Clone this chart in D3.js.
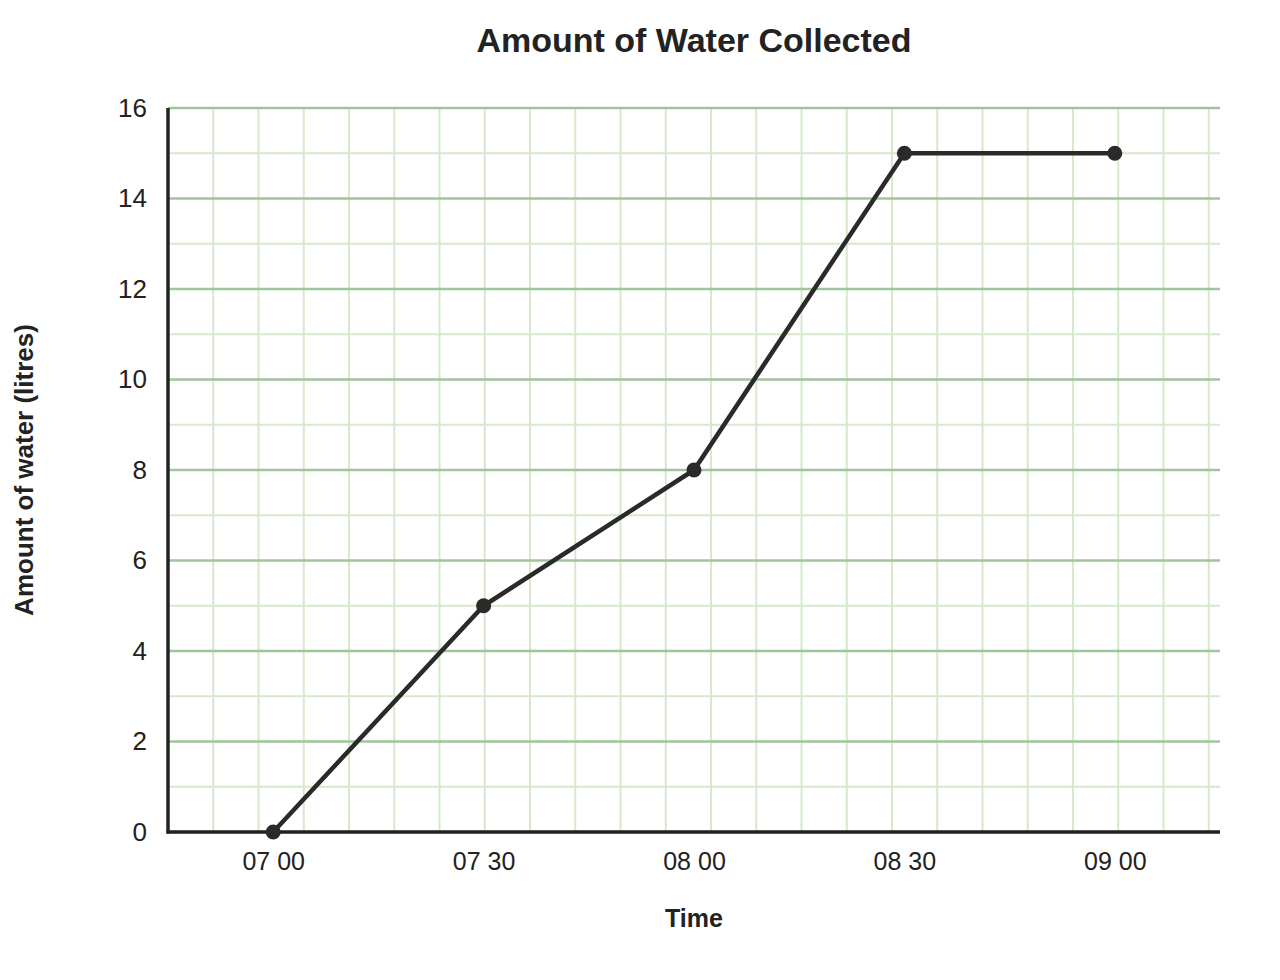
<!DOCTYPE html>
<html>
<head>
<meta charset="utf-8">
<script src="https://cdn.jsdelivr.net/npm/d3@7"></script>
<style>
  body { margin: 0; background: #fff; }
  text { font-family: "Liberation Sans", Arial, sans-serif; fill: #222; }
</style>
</head>
<body>
<svg width="1280" height="980"></svg>
<script>
let times = ['07 00', '07 30', '08 00', '08 30', '09 00'];
let water = [0, 5, 8, 15, 15];
let yTicks = [0, 2, 4, 6, 8, 10, 12, 14, 16];
let minorSteps = d3.range(0, 17, 1);

let svg = d3.select('svg');
let margin = { left: 168, right: 60, top: 108, bottom: 148 };
let width = 1280 - margin.left - margin.right;
let height = 980 - margin.top - margin.bottom;

let x = d3.scalePoint().domain(times).range([0, width]).padding(0.5);
let y = d3.scaleLinear().domain([0, 16]).range([height, 0]);

let g = svg.append('g').attr('transform', `translate(${margin.left}, ${margin.top})`);

// square grid paper: vertical spacing follows one unit of the y scale
let cell = y(0) - y(1);
let vLines = d3.range(1, Math.floor(width / cell) + 1).map(k => k * cell);

g.append('g').selectAll('line').data(vLines).enter().append('line')
  .attr('x1', d => d).attr('x2', d => d)
  .attr('y1', 0).attr('y2', height)
  .attr('stroke', '#d6e9cc').attr('stroke-width', 2);

g.append('g').selectAll('line').data(minorSteps.filter(d => d % 2 !== 0)).enter().append('line')
  .attr('x1', 0).attr('x2', width)
  .attr('y1', d => y(d)).attr('y2', d => y(d))
  .attr('stroke', '#d6e9cc').attr('stroke-width', 2);

g.append('g').selectAll('line').data(yTicks).enter().append('line')
  .attr('x1', 0).attr('x2', width)
  .attr('y1', d => y(d)).attr('y2', d => y(d))
  .attr('stroke', '#9fc59b').attr('stroke-width', 2.5);

// axes
let yAxis = g.append('g').call(d3.axisLeft(y).tickValues(yTicks).tickSize(0).tickPadding(21));
yAxis.select('.domain').remove();
yAxis.selectAll('text').style('font-size', '26px').attr('fill', '#222');

let xAxis = g.append('g').attr('transform', `translate(0, ${height})`)
  .call(d3.axisBottom(x).tickSize(0).tickPadding(20));
xAxis.select('.domain').remove();
xAxis.selectAll('text').style('font-size', '25px').attr('fill', '#222');

g.append('line').attr('x1', 0).attr('x2', 0).attr('y1', 0).attr('y2', height + 1.5)
  .attr('stroke', '#222').attr('stroke-width', 3.5);
g.append('line').attr('x1', -1.5).attr('x2', width).attr('y1', height).attr('y2', height)
  .attr('stroke', '#222').attr('stroke-width', 3.5);

// data line
let line = d3.line().x((d, i) => x(times[i])).y(d => y(d));
g.append('path').datum(water)
  .attr('d', line)
  .attr('fill', 'none')
  .attr('stroke', '#2a2a2a')
  .attr('stroke-width', 4.5);

g.append('g').selectAll('circle').data(water).enter().append('circle')
  .attr('cx', (d, i) => x(times[i]))
  .attr('cy', d => y(d))
  .attr('r', 7.5)
  .attr('fill', '#2a2a2a');

// titles
svg.append('text')
  .attr('x', margin.left + width / 2).attr('y', 52)
  .attr('text-anchor', 'middle')
  .style('font-size', '34px').style('font-weight', 'bold')
  .text('Amount of Water Collected');

svg.append('text')
  .attr('x', margin.left + width / 2).attr('y', 927)
  .attr('text-anchor', 'middle')
  .style('font-size', '25px').style('font-weight', 'bold')
  .text('Time');

svg.append('text')
  .attr('transform', `translate(33, ${margin.top + height / 2}) rotate(-90)`)
  .attr('text-anchor', 'middle')
  .style('font-size', '26px').style('font-weight', 'bold')
  .text('Amount of water (litres)');
</script>
</body>
</html>
